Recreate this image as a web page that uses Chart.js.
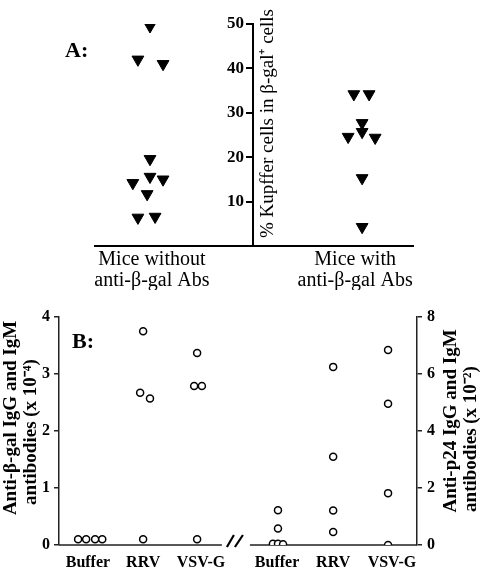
<!DOCTYPE html>
<html><head><meta charset="utf-8">
<script src="https://cdn.jsdelivr.net/npm/chart.js@4.4.1/dist/chart.umd.min.js"></script>
<style>
html,body{margin:0;padding:0;background:#fff;}
#wrap{width:484px;height:570px;position:relative;overflow:hidden;}
canvas{position:absolute;left:0;}
#ca{top:0;}
#cb{top:290px;}
</style></head><body>
<div id="wrap">
<canvas id="ca" width="484" height="290"></canvas>
<canvas id="cb" width="484" height="280"></canvas>
</div>
<script>
// ---------- Panel A data ----------
const panelATag = "A:";
const panelAYTitle = "% Kupffer cells in \u03b2-gal\u207a cells";
const panelACatLabels = [["Mice without","anti-\u03b2-gal Abs"],["Mice with","anti-\u03b2-gal Abs"]];
const panelACatX = [1.79, 8.18];
const withoutAbsX = [1.73, 1.35, 2.14, 1.73, 1.73, 2.14, 1.19, 1.64, 1.35, 1.89];
const withoutAbsY = [49.5, 42.0, 41.0, 19.6, 15.6, 15.0, 14.2, 11.7, 6.4, 6.6];
const withAbsX = [8.14, 8.62, 8.40, 8.40, 7.96, 8.81, 8.40, 8.40];
const withAbsY = [34.2, 34.2, 27.7, 25.7, 24.6, 24.4, 15.3, 4.3];
const panelAYMax = 50;
const panelAYStep = 10;

// ---------- Panel B data ----------
const panelBTag = "B:";
const panelBLeftTitle = ["Anti-\u03b2-gal IgG and IgM", "antibodies (x 10\u207b\u2074)"];
const panelBRightTitle = ["Anti-p24 IgG and IgM", "antibodies (x 10\u207b\u00b2)"];
const panelBCatLabels = ["Buffer","RRV","VSV-G","Buffer","RRV","VSV-G"];
const panelBCatX = [0.97, 2.82, 4.76, 7.31, 9.19, 11.16];
const betaGalX = [0.64, 0.91, 1.21, 1.45, 2.82, 2.72, 3.05, 2.82, 4.63, 4.53, 4.79, 4.63];
const betaGalY = [0.10, 0.10, 0.10, 0.10, 3.75, 2.67, 2.57, 0.10, 3.37, 2.79, 2.79, 0.10];
const p24X = [7.34, 7.34, 7.17, 7.34, 7.51, 9.19, 9.19, 9.19, 9.19, 11.03, 11.03, 11.03, 11.03];
const p24Y = [1.22, 0.58, 0.04, 0.04, 0.03, 6.25, 3.10, 1.21, 0.46, 6.84, 4.96, 1.82, 0.00];
const leftAxisMax = 4, leftAxisStep = 1;
const rightAxisMax = 8, rightAxisStep = 2;
const axisBreak = [5.46, 6.40];

const serif = '"Liberation Serif", "Times New Roman", serif';
const zip = (xs, ys) => xs.map((x, i) => ({x, y: ys[i]}));

// ---------- Panel A ----------
const annotA = {
  id: 'annotA',
  beforeDraw(chart) {
    // place the tick labels of the centred y axis to the left of its tick marks
    const s = chart.scales.y;
    const off = s.options.grid.tickLength + s.options.ticks.padding;
    s.getLabelItems().forEach(it => {
      if (!it._shifted) { it.options.translation[0] -= off; it._shifted = true; }
    });
  },
  afterDraw(chart) {
    const ctx = chart.ctx;
    ctx.save();
    ctx.fillStyle = '#000';
    ctx.font = 'bold 22px ' + serif;
    ctx.textAlign = 'left'; ctx.textBaseline = 'alphabetic';
    ctx.fillText(panelATag, 65, 57);
    ctx.translate(268, 123.5);
    ctx.rotate(-Math.PI / 2);
    ctx.font = '19px ' + serif;
    ctx.textAlign = 'center'; ctx.textBaseline = 'middle';
    ctx.fillText(panelAYTitle, 0, 0);
    ctx.restore();
  }
};

new Chart(document.getElementById('ca'), {
  type: 'scatter',
  data: {
    datasets: [
      {data: zip(withoutAbsX, withoutAbsY)},
      {data: zip(withAbsX, withAbsY)}
    ]
  },
  options: {
    responsive: false, animation: false,
    layout: {padding: {top: 24, left: 95, right: 71, bottom: 0}},
    elements: {point: {pointStyle: 'triangle', rotation: 180, radius: 6.8, backgroundColor: '#000', borderColor: '#000', borderWidth: 1}},
    plugins: {legend: {display: false}, tooltip: {enabled: false}},
    scales: {
      x: {
        type: 'linear', min: 0, max: 10,
        afterFit(s) { s.height = 44; },
        afterBuildTicks(s) { s.ticks = panelACatX.map(v => ({value: v})); },
        grid: {display: false, drawTicks: false},
        border: {display: true, color: '#000', width: 2},
        ticks: {
          autoSkip: false, maxRotation: 0, minRotation: 0, padding: 3,
          color: '#000', font: {family: serif, size: 20, lineHeight: 1.05},
          callback: (v, i) => panelACatLabels[i]
        }
      },
      y: {
        type: 'linear', min: 0, max: panelAYMax,
        position: {x: 4.97},
        grid: {drawOnChartArea: false, drawTicks: true, tickLength: 6, color: '#000', lineWidth: 2},
        border: {display: true, color: '#000', width: 2},
        ticks: {
          stepSize: panelAYStep, padding: 3, color: '#000',
          font: {family: serif, size: 17, weight: 'bold'},
          callback: v => v === 0 ? '' : v
        }
      }
    }
  },
  plugins: [annotA]
});

// ---------- Panel B ----------
const annotB = {
  id: 'annotB',
  beforeDatasetsDraw(chart) {
    const ctx = chart.ctx;
    const xs = chart.scales.x, ys = chart.scales.y;
    const y0 = ys.getPixelForValue(0);
    ctx.save();
    ctx.strokeStyle = '#222'; ctx.lineWidth = 1.5;
    ctx.beginPath();
    ctx.moveTo(xs.getPixelForValue(xs.min), y0);
    ctx.lineTo(xs.getPixelForValue(axisBreak[0]), y0);
    ctx.moveTo(xs.getPixelForValue(axisBreak[1]), y0);
    ctx.lineTo(xs.getPixelForValue(xs.max), y0);
    ctx.stroke();
    // break marks
    const bx = (xs.getPixelForValue(axisBreak[0]) + xs.getPixelForValue(axisBreak[1])) / 2;
    ctx.lineWidth = 2.2; ctx.strokeStyle = '#000';
    ctx.beginPath();
    ctx.moveTo(bx - 9, y0 + 2); ctx.lineTo(bx - 2, y0 - 10);
    ctx.moveTo(bx - 1, y0 + 2); ctx.lineTo(bx + 7, y0 - 10);
    ctx.stroke();
    ctx.restore();
  },
  afterDraw(chart) {
    const ctx = chart.ctx;
    ctx.save();
    ctx.fillStyle = '#000';
    ctx.font = 'bold 22px ' + serif;
    ctx.textAlign = 'left'; ctx.textBaseline = 'alphabetic';
    ctx.fillText(panelBTag, 72, 58);
    const rot = (txt, x, y) => {
      ctx.save(); ctx.translate(x, y); ctx.rotate(-Math.PI / 2);
      ctx.textAlign = 'center'; ctx.textBaseline = 'middle';
      ctx.fillText(txt, 0, 0); ctx.restore();
    };
    ctx.font = 'bold 19px ' + serif;
    rot(panelBLeftTitle[0], 11, 128);
    rot(panelBLeftTitle[1], 31, 142);
    rot(panelBRightTitle[0], 451, 131);
    rot(panelBRightTitle[1], 471, 149);
    ctx.restore();
  }
};

new Chart(document.getElementById('cb'), {
  type: 'scatter',
  data: {
    datasets: [
      {data: zip(betaGalX, betaGalY), yAxisID: 'y'},
      {data: zip(p24X, p24Y), yAxisID: 'y2'}
    ]
  },
  options: {
    responsive: false, animation: false,
    layout: {padding: {top: 27, left: 0, right: 0, bottom: 0}},
    elements: {point: {pointStyle: 'circle', radius: 3.5, backgroundColor: '#fff', borderColor: '#000', borderWidth: 1.5}},
    plugins: {legend: {display: false}, tooltip: {enabled: false}},
    scales: {
      x: {
        type: 'linear', min: 0, max: 12,
        afterFit(s) { s.height = 25; },
        afterBuildTicks(s) { s.ticks = panelBCatX.map(v => ({value: v})); },
        grid: {display: false, drawTicks: false},
        border: {display: false},
        ticks: {
          autoSkip: false, maxRotation: 0, minRotation: 0, padding: 8,
          color: '#000', font: {family: serif, size: 16, weight: 'bold'},
          callback: (v, i) => panelBCatLabels[i]
        }
      },
      y: {
        type: 'linear', position: 'left', min: 0, max: leftAxisMax,
        afterFit(s) { s.width = 59; },
        grid: {drawOnChartArea: false, tickLength: 5, color: '#222', lineWidth: 1.5},
        border: {display: true, color: '#222', width: 1.5},
        ticks: {stepSize: leftAxisStep, padding: 4, color: '#000', font: {family: serif, size: 16, weight: 'bold'}}
      },
      y2: {
        type: 'linear', position: 'right', min: 0, max: rightAxisMax,
        afterFit(s) { s.width = 67; },
        grid: {drawOnChartArea: false, tickLength: 5, color: '#222', lineWidth: 1.5},
        border: {display: true, color: '#222', width: 1.5},
        ticks: {stepSize: rightAxisStep, padding: 5, color: '#000', font: {family: serif, size: 16, weight: 'bold'}}
      }
    }
  },
  plugins: [annotB]
});
</script>
</body></html>
